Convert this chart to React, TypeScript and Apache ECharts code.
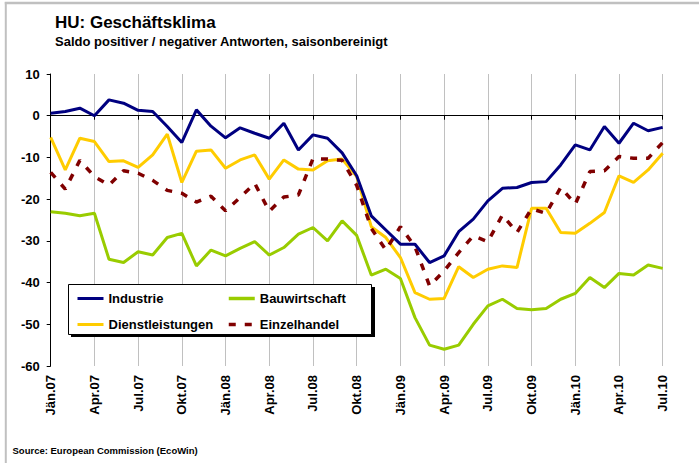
import React, { useEffect, useRef } from "react";
import * as echarts from "echarts";

const monthNames = ["Jän", "Feb", "Mär", "Apr", "Mai", "Jun", "Jul", "Aug", "Sep", "Okt", "Nov", "Dez"];
const years = ["07", "08", "09", "10"];
const categories: string[] = [];
for (const y of years) {
  for (const m of monthNames) {
    categories.push(`${m}.${y}`);
  }
}
const months = categories.slice(0, 43);

const industrie = [
  0.6, 1.0, 1.8, 0.0, 3.8, 3.0, 1.3, 1.0, -2.6, -6.4,
  1.4, -2.5, -5.3, -2.9, -4.2, -5.4, -1.8, -8.2, -4.6, -5.4,
  -8.9, -14.4, -24.0, -27.4, -30.8, -30.8, -35.2, -33.6, -27.8, -24.8,
  -20.4, -17.4, -17.2, -16.0, -15.8, -11.8, -7.0, -8.2, -2.6, -6.6,
  -1.8, -3.6, -2.8,
];
const bauwirtschaft = [
  -23.0, -23.4, -24.0, -23.4, -34.4, -35.2, -32.6, -33.4, -29.2, -28.2,
  -36.0, -32.2, -33.6, -31.8, -30.2, -33.4, -31.6, -28.4, -26.8, -30.0,
  -25.2, -28.7, -38.2, -36.8, -39.0, -48.4, -55.0, -56.0, -55.0, -50.0,
  -45.6, -44.0, -46.2, -46.5, -46.2, -44.0, -42.6, -38.8, -41.2, -37.8,
  -38.2, -35.8, -36.6,
];
const dienstleistungen = [
  -5.2, -13.0, -5.4, -6.2, -11.0, -10.8, -12.4, -9.4, -4.4, -16.0,
  -8.5, -8.2, -12.6, -10.6, -9.4, -15.2, -10.6, -12.8, -13.0, -10.8,
  -10.4, -14.6, -26.6, -29.2, -34.0, -42.4, -44.0, -43.8, -36.2, -38.8,
  -36.8, -36.0, -36.4, -22.2, -22.2, -28.0, -28.2, -25.8, -23.2, -14.4,
  -16.0, -13.0, -9.0,
];
const einzelhandel = [
  -13.6, -17.6, -10.7, -14.6, -16.6, -13.2, -13.8, -15.5, -17.9, -18.6,
  -20.7, -19.3, -22.8, -19.6, -16.2, -22.9, -19.5, -19.0, -10.3, -10.4,
  -10.7, -16.7, -27.0, -32.2, -26.6, -31.4, -40.8, -37.2, -32.8, -28.8,
  -30.2, -23.8, -28.0, -22.3, -23.4, -17.2, -21.2, -13.4, -13.2, -9.8,
  -10.2, -10.2, -6.4,
];
const yTicks = { min: -60, max: 10, interval: 10 };

const FONT = '"Liberation Sans", Arial, sans-serif';

export default function App() {
  const ref = useRef<HTMLDivElement>(null);
  useEffect(() => {
    if (!ref.current) return;
    const chart = echarts.init(ref.current, null, { renderer: "svg" });
    const labelStyle = { fontFamily: FONT, fontWeight: "bold" as const, fontSize: 13, color: "#000" };
    const hiddenSymbol = { color: "rgba(0,0,0,0)", borderWidth: 0, opacity: 0 };
    chart.setOption({
      animation: false,
      backgroundColor: "#fff",
      grid: { left: 50.7, right: 36.3, top: 74, bottom: 97, containLabel: false },
      xAxis: [
        {
          type: "category",
          data: months,
          boundaryGap: false,
          position: "bottom",
          axisLine: { show: false, onZero: false },
          axisTick: { show: false },
          axisLabel: { interval: 2, rotate: 90, margin: 9, ...labelStyle },
          splitLine: { show: true, interval: 2, lineStyle: { color: "#c0c0c0", width: 1 } },
        },
        {
          type: "category",
          data: months,
          boundaryGap: false,
          position: "bottom",
          axisLine: { show: true, onZero: true, lineStyle: { color: "#000", width: 1 } },
          axisTick: { show: true, interval: 2, length: 4, lineStyle: { color: "#000" } },
          axisLabel: { show: false },
          splitLine: { show: false },
        },
      ],
      yAxis: {
        type: "value",
        min: yTicks.min,
        max: yTicks.max,
        interval: yTicks.interval,
        axisLine: { show: true, lineStyle: { color: "#000", width: 1 } },
        axisTick: { show: true, length: 4, lineStyle: { color: "#000" } },
        axisLabel: { margin: 11, ...labelStyle },
        splitLine: { show: false },
      },
      legend: [
        {
          data: ["Industrie", "Dienstleistungen"],
          orient: "vertical",
          left: 76,
          top: 292,
          itemWidth: 26,
          itemHeight: 14,
          itemGap: 13,
          padding: 0,
          z: 60,
          textStyle: { ...labelStyle },
          lineStyle: { width: 3 },
          itemStyle: hiddenSymbol,
        },
        {
          data: ["Bauwirtschaft", "Einzelhandel"],
          orient: "vertical",
          left: 227,
          top: 292,
          itemWidth: 26,
          itemHeight: 14,
          itemGap: 13,
          padding: 0,
          z: 60,
          textStyle: { ...labelStyle },
          lineStyle: { width: 3.5 },
          itemStyle: hiddenSymbol,
        },
      ],
      graphic: [
        { type: "line", shape: { x1: 4.8, y1: 3, x2: 699, y2: 3 }, style: { stroke: "#c0c0c0", lineWidth: 2.5 }, z: 0 },
        { type: "line", shape: { x1: 5.8, y1: 2, x2: 5.8, y2: 463 }, style: { stroke: "#c0c0c0", lineWidth: 2 }, z: 0 },
        {
          type: "text",
          style: { text: "HU: Geschäftsklima", x: 55, y: 22.5, font: `bold 17px ${FONT}`, fill: "#000", verticalAlign: "middle" },
        },
        {
          type: "text",
          style: {
            text: "Saldo positiver / negativer Antworten, saisonbereinigt",
            x: 55,
            y: 41.5,
            font: `bold 13px ${FONT}`,
            fill: "#000",
            verticalAlign: "middle",
          },
        },
        {
          type: "text",
          style: {
            text: "Source: European Commission (EcoWin)",
            x: 12.5,
            y: 450.5,
            font: `bold 9.5px ${FONT}`,
            fill: "#000",
            verticalAlign: "middle",
          },
        },
        { type: "rect", z: 50, shape: { x: 71, y: 287, width: 304, height: 50 }, style: { fill: "#000" } },
        {
          type: "rect",
          z: 51,
          shape: { x: 68.5, y: 284.5, width: 303, height: 50 },
          style: { fill: "#fff", stroke: "#000", lineWidth: 1 },
        },
      ],
      series: [
        {
          name: "Bauwirtschaft",
          type: "line",
          xAxisIndex: 0,
          data: bauwirtschaft,
          symbol: "none",
          lineStyle: { color: "#99CC00", width: 3 },
          itemStyle: { color: "#99CC00" },
        },
        {
          name: "Dienstleistungen",
          type: "line",
          xAxisIndex: 0,
          data: dienstleistungen,
          symbol: "none",
          lineStyle: { color: "#FFCC00", width: 3 },
          itemStyle: { color: "#FFCC00" },
        },
        {
          name: "Einzelhandel",
          type: "line",
          xAxisIndex: 0,
          data: einzelhandel,
          symbol: "none",
          lineStyle: { color: "#800000", width: 3.5, type: [7, 9] },
          itemStyle: { color: "#800000" },
        },
        {
          name: "Industrie",
          type: "line",
          xAxisIndex: 0,
          data: industrie,
          symbol: "none",
          lineStyle: { color: "#000080", width: 3 },
          itemStyle: { color: "#000080" },
        },
      ],
    });
    return () => chart.dispose();
  }, []);
  return (
    <div
      ref={ref}
      style={{ position: "absolute", left: 0, top: 0, width: 699, height: 463, background: "#fff" }}
    />
  );
}
